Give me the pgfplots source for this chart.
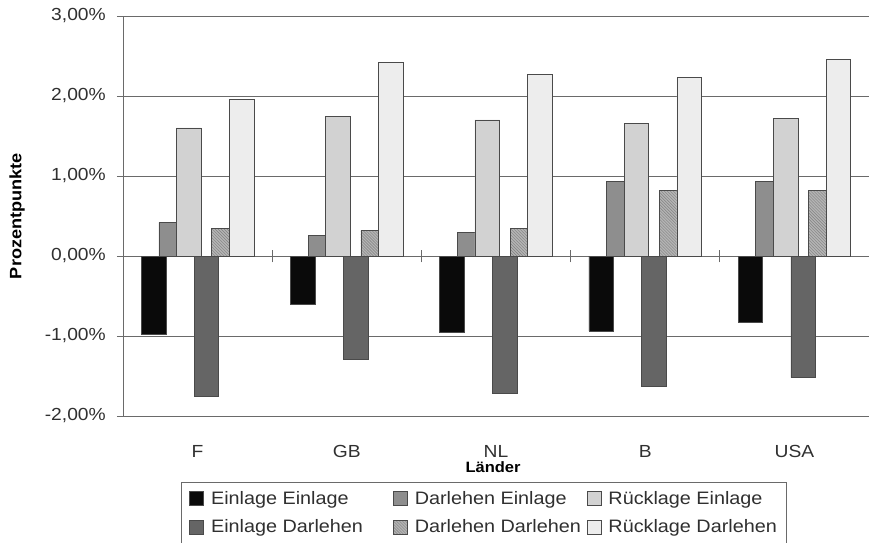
\documentclass[border=0pt]{standalone}
\usepackage{pgfplots}
\pgfplotsset{compat=1.18}
\usepackage{pgfplotstable}
\usepackage{fontspec}
\setmainfont{Liberation Sans}[FakeStretch=1.1]
\usetikzlibrary{patterns}
\definecolor{gridc}{HTML}{6A6A6A}
\definecolor{edgec}{HTML}{4A4A4A}
\definecolor{cEE}{HTML}{0A0A0A}
\definecolor{cDE}{HTML}{8E8E8E}
\definecolor{cRE}{HTML}{D2D2D2}
\definecolor{cED}{HTML}{656565}
\definecolor{cDD}{HTML}{B4B4B4}
\definecolor{cRD}{HTML}{EDEDED}
\definecolor{txt}{HTML}{303030}
\pgfplotsset{sqlegend/.style={legend image code/.code={\draw[##1] (0bp,-7bp) rectangle (14bp,7bp);}}}

\pgfplotstableread{
x EE DE RE ED DD RD
0 -0.98 0.42 1.60 -1.75 0.35 1.96
1 -0.60 0.26 1.74 -1.29 0.32 2.42
2 -0.95 0.30 1.70 -1.72 0.34 2.27
3 -0.94 0.93 1.66 -1.63 0.82 2.23
4 -0.83 0.93 1.72 -1.52 0.82 2.46
}\data

\begin{document}
\begin{tikzpicture}
\path[use as bounding box] (-123bp,-127bp) rectangle (747bp,416bp);
\begin{axis}[
  scale only axis, width=746bp, height=400bp,
  xmin=-0.5, xmax=4.5, ymin=-2, ymax=3,
  enlargelimits=false,
  ybar, bar width=0.165,
  axis y line*=left,
  x axis line style={draw=none},
  y axis line style={draw=gridc, line width=0.9bp},
  ymajorgrids, major grid style={draw=gridc, line width=0.9bp},
  ytick={-2,-1,0,1,2,3},
  yticklabels={{-2,00\%},{-1,00\%},{0,00\%},{1,00\%},{2,00\%},{3,00\%}},
  xtick={0,1,2,3,4}, xticklabels={F,GB,NL,B,USA},
  x tick style={draw=none},
  y tick style={draw=gridc, line width=0.9bp},
  tick align=outside, major tick length=6bp,
  yticklabel style={font=\fontsize{17.5bp}{20bp}\selectfont, text=txt, anchor=east, inner sep=0pt, xshift=-11bp},
  xticklabel style={font=\fontsize{17.5bp}{20bp}\selectfont, text=txt, anchor=base, inner sep=0pt, yshift=-35bp},
  ylabel={Prozentpunkte},
  ylabel style={font=\bfseries\fontsize{16.5bp}{19bp}\selectfont, at={(axis description cs:-0.1421,0.5)}, anchor=center},
  xlabel={Länder},
  xlabel style={font=\bfseries\fontsize{15bp}{18bp}\selectfont, at={(axis description cs:0.496,0)}, anchor=base, yshift=-56bp},
  legend columns=3,
  legend cell align=left,
  legend style={at={(axis description cs:0,0)}, anchor=north west, xshift=58bp, yshift=-66bp,
    draw=gridc, line width=0.8bp, inner xsep=8bp, inner ysep=7bp, row sep=10bp,
    font=\fontsize{18bp}{21bp}\selectfont, text=txt,
    /tikz/every odd column/.append style={column sep=5bp},
    /tikz/every even column/.append style={column sep=12bp}},
]
\addplot[fill=cEE, draw=edgec, line width=0.7bp, bar shift=-0.295, sqlegend] table[x=x,y=EE]{\data};
\addlegendentry{\makebox[168bp][l]{Einlage Einlage}}
\addplot[fill=cDE, draw=edgec, line width=0.7bp, bar shift=-0.177, sqlegend] table[x=x,y=DE]{\data};
\addlegendentry{\makebox[158bp][l]{Darlehen Einlage}}
\addplot[fill=cRE, draw=edgec, line width=0.7bp, bar shift=-0.059, sqlegend] table[x=x,y=RE]{\data};
\addlegendentry{Rücklage Einlage}
\addplot[fill=cED, draw=edgec, line width=0.7bp, bar shift=0.059, sqlegend] table[x=x,y=ED]{\data};
\addlegendentry{\makebox[168bp][l]{Einlage Darlehen}}
\addplot[fill=cDD, draw=edgec, line width=0.7bp, bar shift=0.177, sqlegend,
  postaction={pattern=north west lines, pattern color=black!50}] table[x=x,y=DD]{\data};
\addlegendentry{\makebox[158bp][l]{Darlehen Darlehen}}
\addplot[fill=cRD, draw=edgec, line width=0.7bp, bar shift=0.295, sqlegend] table[x=x,y=RD]{\data};
\addlegendentry{Rücklage Darlehen}
\pgfplotsinvokeforeach{0.5,1.5,2.5,3.5}{\draw[gridc, line width=0.9bp] (axis cs:#1,-0.08) -- (axis cs:#1,0.08);}
\end{axis}
\end{tikzpicture}
\end{document}
